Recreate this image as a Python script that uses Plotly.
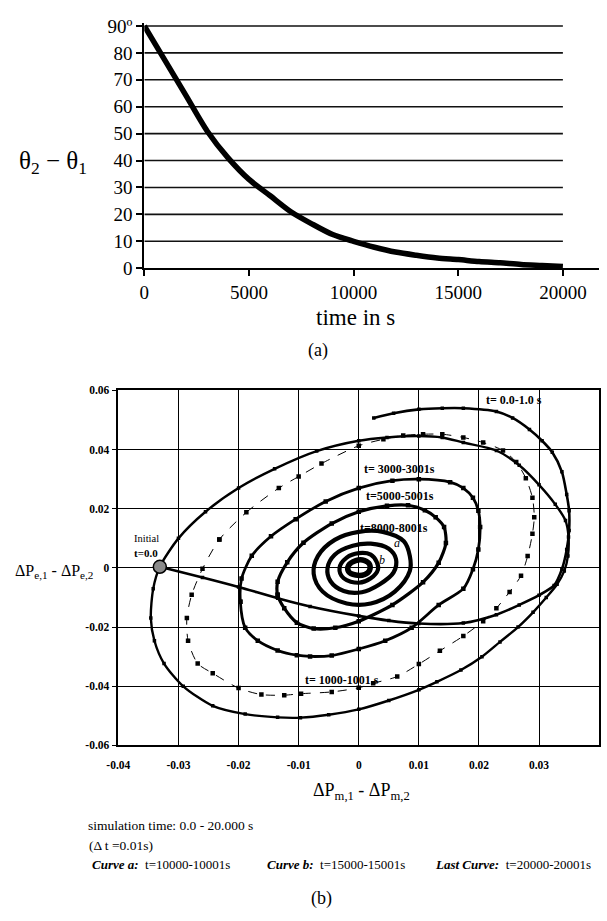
import plotly.graph_objects as go

W, H = 607, 921
SERIF = "Liberation Serif"

# ---------------- (a) data ----------------
time_s = [0, 1000, 2000, 3000, 4000, 5000, 6000, 7000, 8000, 9000, 10000,
          11000, 12000, 13000, 14000, 15000, 16000, 17000, 18000, 19000, 20000]
theta_diff = [90, 77, 64, 51, 41, 33, 27, 21, 16.5, 12.5, 10,
              7.8, 6.0, 4.8, 3.8, 3.2, 2.5, 2.0, 1.4, 1.0, 0.6]
theta_ticks = [0, 10, 20, 30, 40, 50, 60, 70, 80, 90]
theta_ticklabels = ["0", "10", "20", "30", "40", "50", "60", "70", "80", "90º"]
time_ticks = [0, 5000, 10000, 15000, 20000]
time_ticklabels = ["0", "5000", "10000", "15000", "20000"]

# ---------------- (b) data ----------------
dpm_ticks = [-0.04, -0.03, -0.02, -0.01, 0, 0.01, 0.02, 0.03, 0.04]
dpm_ticklabels = ["-0.04", "-0.03", "-0.02", "-0.01", "0", "0.01", "0.02", "0.03", "0.04"]
dpe_ticks = [-0.06, -0.04, -0.02, 0, 0.02, 0.04, 0.06]
dpe_ticklabels = ["-0.06", "-0.04", "-0.02", "0", "0.02", "0.04", "0.06"]

initial_x = [-0.0331]
initial_y = [0.0004]

# t = 0.0-1.0 s : from the initial point to the upper end
c0_x = [-0.0331, -0.026, -0.020, -0.0135, -0.0081, 0.0, 0.005, 0.010, 0.0174, 0.0229,
        0.0267, 0.0300, 0.0325, 0.0338, 0.0346, 0.0350, 0.0350, 0.0346, 0.0338, 0.0322,
        0.0305, 0.0284, 0.0256, 0.0229, 0.0174, 0.0139, 0.0100, 0.0058, 0.0025]
c0_y = [0.0004, -0.0032, -0.0064, -0.0102, -0.0130, -0.0162, -0.0178, -0.0188, -0.0186, -0.0158,
        -0.0125, -0.0092, -0.0059, -0.0004, 0.0062, 0.0127, 0.0193, 0.0248, 0.0325, 0.0391,
        0.0430, 0.0468, 0.0507, 0.0529, 0.0540, 0.0540, 0.0536, 0.0523, 0.0507]

# outer solid loop through the initial point
outer_x = [-0.0331, -0.0300, -0.0255, -0.0200, -0.0140, -0.0070, 0.0, 0.0047, 0.0100, 0.0139,
           0.0174, 0.0229, 0.0267, 0.0300, 0.0327, 0.0344, 0.0349, 0.0348, 0.0342, 0.0330,
           0.0312, 0.0290, 0.0265, 0.0235, 0.0205, 0.0170, 0.0130, 0.0100, 0.0050, 0.0,
           -0.0050, -0.0097, -0.0135, -0.0189, -0.0243, -0.0292, -0.0324, -0.0340, -0.0346,
           -0.0342, -0.0331]
outer_y = [0.0004, 0.0100, 0.0190, 0.0270, 0.0335, 0.0395, 0.0430, 0.0441, 0.0446, 0.0441,
           0.0424, 0.0397, 0.0347, 0.0281, 0.0215, 0.0160, 0.0105, 0.0040, -0.0010, -0.0055,
           -0.0100, -0.0150, -0.0200, -0.0250, -0.0300, -0.0345, -0.0385, -0.0412, -0.0448, -0.0478,
           -0.0496, -0.0506, -0.0505, -0.0494, -0.0466, -0.0400, -0.0323, -0.0246, -0.0169,
           -0.0070, 0.0004]

# t = 1000-1001 s (dashed)
c1000_x = [-0.0232, -0.0187, -0.0133, -0.0100, -0.0062, 0.0, 0.0041, 0.0074, 0.0107, 0.0139,
           0.0174, 0.0207, 0.0240, 0.0262, 0.0278, 0.0289, 0.0292, 0.0289, 0.0281, 0.0270,
           0.0251, 0.0229, 0.0207, 0.0174, 0.0135, 0.0100, 0.0064, 0.0024, 0.0, -0.0045,
           -0.0096, -0.0124, -0.0162, -0.0200, -0.0243, -0.0268, -0.0284, -0.0286, -0.0278,
           -0.0260, -0.0232]
c1000_y = [0.0096, 0.0188, 0.0270, 0.0309, 0.0353, 0.0413, 0.0435, 0.0448, 0.0452, 0.0452,
           0.0441, 0.0424, 0.0397, 0.0358, 0.0303, 0.0237, 0.0171, 0.0116, 0.0040, -0.0026,
           -0.0081, -0.0136, -0.0180, -0.0230, -0.0280, -0.0325, -0.0367, -0.0390, -0.0405, -0.0419,
           -0.0425, -0.0430, -0.0428, -0.0406, -0.0356, -0.0323, -0.0246, -0.0169, -0.0091,
           -0.0003, 0.0096]

# t = 3000-3001 s
c3000_x = [-0.0197, -0.0195, -0.0178, -0.0146, -0.0105, -0.0055, 0.0, 0.0056, 0.0100, 0.0152,
           0.0174, 0.0190, 0.0199, 0.0202, 0.0199, 0.0190, 0.0174, 0.0133, 0.0088, 0.0044,
           0.0, -0.0045, -0.0081, -0.0103, -0.0135, -0.0168, -0.0189, -0.0197]
c3000_y = [-0.0114, -0.0036, 0.0041, 0.0107, 0.0165, 0.0225, 0.0270, 0.0295, 0.0300, 0.0290,
           0.0270, 0.0237, 0.0193, 0.0138, 0.0062, -0.0004, -0.0070, -0.0125, -0.0202, -0.0246,
           -0.0274, -0.0296, -0.0299, -0.0295, -0.0279, -0.0246, -0.0202, -0.0114]

# t = 5000-5001 s
c5000_x = [-0.0135, -0.0135, -0.0119, -0.0092, -0.0045, 0.0, 0.0047, 0.0082, 0.0110, 0.0128,
           0.0142, 0.0145, 0.0133, 0.0107, 0.0056, 0.0, -0.0039, -0.0075, -0.0103, -0.0124,
           -0.0135]
c5000_y = [-0.0091, -0.0047, 0.0019, 0.0085, 0.0150, 0.0190, 0.0210, 0.0212, 0.0195, 0.0171,
           0.0138, 0.0084, 0.0018, -0.0048, -0.0125, -0.0180, -0.0202, -0.0205, -0.0185, -0.0136,
           -0.0091]

# t = 8000-8001 s
c8000_x = [0.0085, 0.0075, 0.0040, 0.0, -0.0040, -0.0068, -0.0075, -0.0060, -0.0020, 0.0020,
           0.0060, 0.0085, 0.0085]
c8000_y = [0.0040, 0.0090, 0.0122, 0.0122, 0.0095, 0.0040, -0.0020, -0.0080, -0.0120, -0.0120,
           -0.0080, -0.0010, 0.0040]

# curve a: t = 10000-10001 s
ca_x = [0.0062, 0.0050, 0.0020, -0.0010, -0.0040, -0.0052, -0.0047, -0.0025, 0.0005, 0.0035,
        0.0058, 0.0062]
ca_y = [0.0030, 0.0065, 0.0082, 0.0075, 0.0045, 0.0, -0.0045, -0.0078, -0.0082, -0.0055,
        -0.0015, 0.0030]

# curve b: t = 15000-15001 s
cb_x = [0.0030, 0.0020, 0.0, -0.0020, -0.0032, -0.0025, 0.0, 0.0020, 0.0032, 0.0030]
cb_y = [0.0020, 0.0045, 0.0050, 0.0035, 0.0, -0.0035, -0.0050, -0.0035, -0.0005, 0.0020]

# last curve: t = 20000-20001 s
clast_x = [0.0018, 0.0010, -0.0005, -0.0017, -0.0017, -0.0005, 0.0010, 0.0018, 0.0018]
clast_y = [0.0012, 0.0025, 0.0025, 0.0008, -0.0012, -0.0024, -0.0022, -0.0008, 0.0012]


def px(x):
    return x / W


def py(y):
    return 1 - y / H


fig = go.Figure()

# ---------- (a) ----------
fig.add_trace(go.Scatter(x=time_s, y=theta_diff, mode="lines",
                         line=dict(color="black", width=5.5, shape="spline", smoothing=0.8),
                         xaxis="x", yaxis="y", showlegend=False, hoverinfo="skip"))

shapes = []
for v in theta_ticks[1:]:
    shapes.append(dict(type="line", xref="x", yref="y", x0=time_ticks[0], x1=time_ticks[-1], y0=v, y1=v,
                       line=dict(color="#111111", width=1.6), layer="below"))


# ---------- (b) ----------
def add_curve(xs, ys, width, marker_size=0, dash="solid", smoothing=0.75):
    mode = "lines+markers" if marker_size else "lines"
    fig.add_trace(go.Scatter(x=xs, y=ys, mode=mode, xaxis="x2", yaxis="y2",
                             line=dict(color="black", width=width, shape="spline", smoothing=smoothing, dash=dash),
                             marker=dict(symbol="square", size=marker_size, color="black"),
                             showlegend=False, hoverinfo="skip"))


add_curve(outer_x, outer_y, 2.4, 3.5)
add_curve(c0_x, c0_y, 2.6, 3.5)
add_curve(c1000_x, c1000_y, 1.0, 4.5, dash="dash")
add_curve(c3000_x, c3000_y, 2.8, 4.5)
add_curve(c5000_x, c5000_y, 3.2, 4.5)
add_curve(c8000_x, c8000_y, 4.2, smoothing=1.0)
add_curve(ca_x, ca_y, 4.2, smoothing=1.0)
add_curve(cb_x, cb_y, 4.2, smoothing=1.0)
add_curve(clast_x, clast_y, 5.5, smoothing=1.0)

fig.add_trace(go.Scatter(x=initial_x, y=initial_y, mode="markers", xaxis="x2", yaxis="y2",
                         marker=dict(size=13, color="#8a8a8a", line=dict(color="black", width=1.5)),
                         showlegend=False, hoverinfo="skip"))

ann = []


def dann(text, x, y, xanchor="left", size=12, italic=False):
    t = "<b>" + text + "</b>"
    if italic:
        t = "<i>" + text + "</i>"
    ann.append(dict(text=t, x=x, y=y, xref="x2", yref="y2", xanchor=xanchor, yanchor="middle",
                    showarrow=False, font=dict(family=SERIF, size=size, color="black")))


dann("t= 0.0-1.0 s", 0.0208, 0.0567)
dann("t= 3000-3001s", 0.0006, 0.0336)
dann("t=5000-5001s", 0.0008, 0.0242)
dann("t=8000-8001s", -0.0002, 0.0136)
dann("t= 1000-1001 s", -0.0093, -0.0379)
dann("t=0.0", -0.0378, 0.0050, size=11)
ann.append(dict(text="Initial", x=-0.0378, y=0.0100, xref="x2", yref="y2", xanchor="left", yanchor="middle",
                showarrow=False, font=dict(family=SERIF, size=10.5, color="black")))
dann("a", 0.0055, 0.0086, italic=True, size=12)
dann("b", 0.0030, 0.0026, italic=True, size=12)


def pann(text, x, y, size, xanchor="center"):
    ann.append(dict(text=text, x=px(x), y=py(y), xref="paper", yref="paper", xanchor=xanchor,
                    yanchor="middle", showarrow=False, font=dict(family=SERIF, size=size, color="black")))


pann("θ<sub>2</sub> − θ<sub>1</sub>", 42, 158, 25)
pann("time in s", 350, 316, 23)
pann("(a)", 312, 350, 18)
pann("ΔP<sub>e,1</sub> - ΔP<sub>e,2</sub>", 43, 575, 16)
pann("ΔP<sub>m,1</sub> - ΔP<sub>m,2</sub>", 357, 800, 18)
pann("simulation time: 0.0 - 20.000 s", 76, 835, 13.5, "left")
pann("(Δ t =0.01s)", 77, 855, 13.5, "left")
pann("<b><i>Curve a:</i></b>  t=10000-10001s", 80, 875, 13, "left")
pann("<b><i>Curve b:</i></b>  t=15000-15001s", 258, 875, 13, "left")
pann("<b><i>Last Curve:</i></b>  t=20000-20001s", 430, 875, 13, "left")
pann("(b)", 316, 909, 18)

tickfont_a = dict(family=SERIF, size=19, color="black")
tickfont_b = dict(family=SERIF, size=11.5, color="black")

fig.update_layout(
    width=W, height=H, margin=dict(l=0, r=0, t=0, b=0),
    paper_bgcolor="white", plot_bgcolor="white",
    font=dict(family=SERIF, color="black"),
    shapes=shapes, annotations=ann,
    xaxis=dict(domain=[px(135), px(599)], range=[0, 21733], anchor="y",
               showline=True, linecolor="black", linewidth=2, ticks="outside", ticklen=6, tickwidth=1.5,
               tickcolor="black", tickvals=time_ticks, ticktext=time_ticklabels, tickfont=tickfont_a,
               showgrid=False, zeroline=False),
    yaxis=dict(domain=[py(265.7), py(15.6)], range=[0, 91], anchor="x",
               showline=True, linecolor="black", linewidth=2, ticks="outside", ticklen=6, tickwidth=1.5,
               tickcolor="black", tickvals=theta_ticks, ticktext=theta_ticklabels, tickfont=tickfont_a,
               showgrid=False, zeroline=False),
    xaxis2=dict(domain=[px(108.5), px(599)], range=[-0.04, 0.04], anchor="y2",
                showline=True, mirror=True, linecolor="black", linewidth=1.5,
                tickvals=dpm_ticks, ticktext=["<b>%s</b>" % t for t in dpm_ticklabels], tickfont=tickfont_b,
                showgrid=True, gridcolor="black", gridwidth=1, zeroline=False, ticks="",
                ticklabelstandoff=8),
    yaxis2=dict(domain=[py(753), py(390.5)], range=[-0.06, 0.06], anchor="x2",
                showline=True, mirror=True, linecolor="black", linewidth=1.5,
                tickvals=dpe_ticks, ticktext=["<b>%s</b>" % t for t in dpe_ticklabels], tickfont=tickfont_b,
                showgrid=True, gridcolor="black", gridwidth=1, zeroline=False,
                ticks="outside", ticklen=5, tickcolor="black"),
)

fig.write_html("out.html", config={"displayModeBar": False},
               post_script="document.body.style.margin='0px';")
